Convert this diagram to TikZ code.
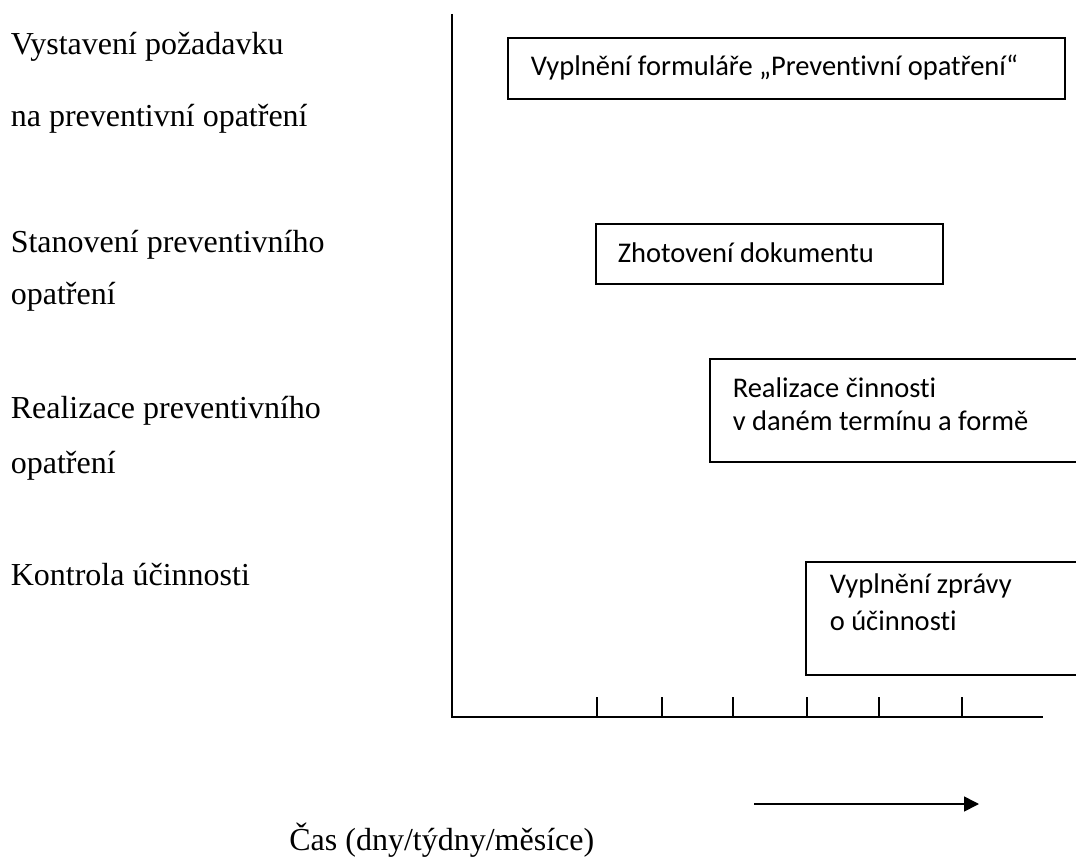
\documentclass[tikz,border=0pt]{standalone}
\usepackage{fontspec}
\setmainfont{Liberation Serif}
\newfontfamily\boxfont[Ligatures=NoCommon]{Carlito}
\usetikzlibrary{arrows.meta}
\begin{document}
\begin{tikzpicture}[x=1pt,y=-1pt,
  line width=1.6pt,
  phase/.style={anchor=base west,inner sep=0pt,font=\fontsize{32}{38}\selectfont},
  task/.style={anchor=base west,inner sep=0pt,font=\boxfont\fontsize{28.5}{34}\selectfont},
  taskbox/.style={draw,anchor=north west,inner sep=0pt,outer sep=0pt}]
\useasboundingbox (0,0) rectangle (1076,858);
\clip (0,0) rectangle (1076,858);

% phase labels on the left
\node[phase] (p1a) at (10,55) {Vystavení požadavku};
\node[phase] (p1b) at (10,127) {na preventivní opatření};
\node[phase] (p2a) at (10,253) {Stanovení preventivního};
\node[phase] (p2b) at (10,305) {opatření};
\node[phase] (p3a) at (10,418) {Realizace preventivního};
\node[phase] (p3b) at (10,473) {opatření};
\node[phase] (p4) at (10,585) {Kontrola účinnosti};

% axes
\coordinate (ytop) at (452,14);
\coordinate (origin) at (452,717);
\coordinate (xend) at (1043,717);
\draw (ytop) -- (origin) -- (xend);
\foreach \t/\x in {1/597,2/662,3/733,4/807,5/879,6/962} {
  \coordinate (tick\t) at (\x,717);
  \draw (tick\t) -- ++(0,-20);
}

% activity boxes
\node[taskbox,minimum width=557pt,minimum height=61pt] (b1) at (508,38) {};
\node[task] (t1) at (530,76) {Vyplnění formuláře „Preventivní opatření“};

\node[taskbox,minimum width=347pt,minimum height=60pt] (b2) at (596,224) {};
\node[task] (t2) at (617,263) {Zhotovení dokumentu};

\node[taskbox,minimum width=420pt,minimum height=103pt] (b3) at (710,359) {};
\node[task] (t3a) at (732,398) {Realizace činnosti};
\node[task] (t3b) at (732,430) {v daném termínu a formě};

\node[taskbox,minimum width=320pt,minimum height=113pt] (b4) at (806,562) {};
\node[task] (t4a) at (829,593) {Vyplnění zprávy};
\node[task] (t4b) at (829,630) {o účinnosti};

% time arrow and caption
\coordinate (arrS) at (754,804);
\coordinate (arrE) at (979,804);
\draw[-{Triangle[length=15pt,width=15pt]}] (arrS) -- (arrE);
\node[anchor=base east,inner sep=0pt,font=\fontsize{32}{38}\selectfont] (cas) at (595,850) {Čas (dny/týdny/měsíce)};
\end{tikzpicture}
\end{document}
